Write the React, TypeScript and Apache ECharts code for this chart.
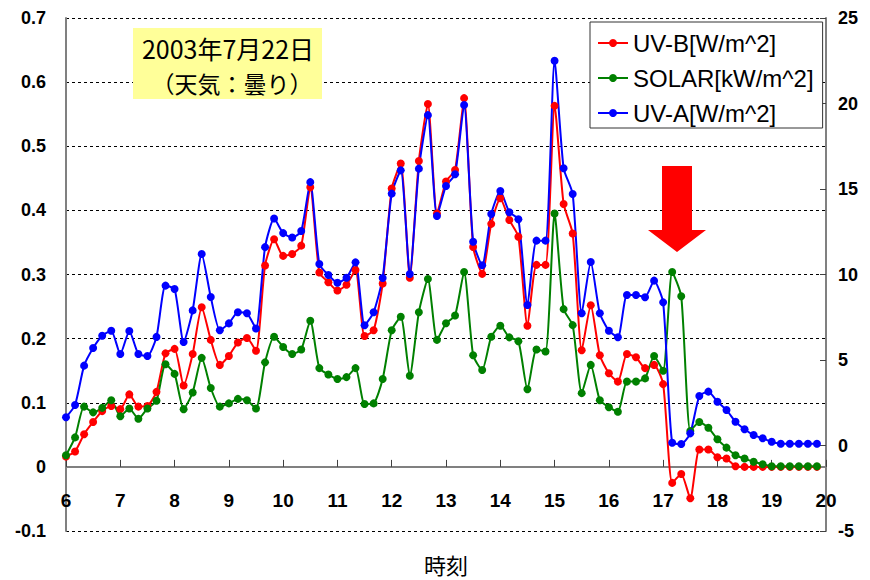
import React, { useEffect, useRef } from "react";
import * as echarts from "echarts";

// 10-minute time stamps from 6:00 to 20:00
const HOURS = [6, 7, 8, 9, 10, 11, 12, 13, 14, 15, 16, 17, 18, 19, 20];
const MINUTES = ["00", "10", "20", "30", "40", "50"];
const TIMES: string[] = [];
HOURS.forEach((h) => {
  MINUTES.forEach((m) => {
    if (h < 20 || m === "00") TIMES.push(`${h}:${m}`);
  });
});

const UVB = [
  0.016, 0.024, 0.051, 0.07, 0.087, 0.095, 0.09, 0.113, 0.094, 0.095, 0.117, 0.177,
  0.184, 0.127, 0.176, 0.249, 0.198, 0.159, 0.173, 0.194, 0.201, 0.181, 0.314, 0.355,
  0.329, 0.332, 0.345, 0.436, 0.303, 0.288, 0.275, 0.284, 0.307, 0.204, 0.213, 0.286,
  0.434, 0.473, 0.295, 0.477, 0.566, 0.395, 0.445, 0.463, 0.575, 0.343, 0.301, 0.379,
  0.419, 0.385, 0.359, 0.22, 0.315, 0.315, 0.563, 0.41, 0.364, 0.182, 0.252, 0.174,
  0.146, 0.133, 0.176, 0.171, 0.154, 0.159, 0.129, -0.025, -0.011, -0.049, 0.027, 0.027,
  0.015, 0.013, 0.001, 0.0, 0.0, 0.0, 0.0, 0.0, 0.0, 0.0, 0.0, 0.0,
];

const SOLAR = [
  0.018, 0.046, 0.094, 0.085, 0.092, 0.104, 0.079, 0.091, 0.075, 0.091, 0.103, 0.16,
  0.145, 0.09, 0.116, 0.17, 0.123, 0.094, 0.099, 0.106, 0.104, 0.091, 0.163, 0.203,
  0.187, 0.176, 0.183, 0.228, 0.154, 0.144, 0.137, 0.14, 0.154, 0.098, 0.099, 0.137,
  0.213, 0.234, 0.142, 0.241, 0.293, 0.198, 0.224, 0.236, 0.304, 0.174, 0.151, 0.203,
  0.22, 0.202, 0.196, 0.121, 0.183, 0.18, 0.395, 0.246, 0.221, 0.115, 0.159, 0.104,
  0.093, 0.086, 0.133, 0.133, 0.138, 0.173, 0.15, 0.304, 0.266, 0.056, 0.07, 0.061,
  0.043, 0.03, 0.018, 0.013, 0.008, 0.004, 0.001, 0.001, 0.001, 0.001, 0.001, 0.001,
];

const UVA = [
  1.65, 2.37, 4.67, 5.7, 6.42, 6.71, 5.35, 6.7, 5.35, 5.23, 6.35, 9.35,
  9.15, 6.05, 7.9, 11.2, 8.68, 6.74, 7.14, 7.79, 7.73, 6.84, 11.6, 13.27,
  12.42, 12.16, 12.54, 15.4, 10.61, 9.97, 9.52, 9.81, 10.71, 7.03, 7.79, 9.8,
  14.73, 16.09, 10.03, 16.19, 19.32, 13.42, 15.18, 15.86, 19.91, 11.92, 10.54, 13.54,
  14.88, 13.64, 13.23, 8.22, 11.98, 11.98, 22.5, 16.21, 14.71, 7.73, 10.73, 7.73,
  6.71, 6.33, 8.8, 8.8, 8.67, 9.64, 8.37, 0.16, 0.09, 0.71, 2.89, 3.15,
  2.56, 2.08, 1.39, 0.95, 0.61, 0.42, 0.22, 0.1, 0.1, 0.1, 0.1, 0.1,
];

const SERIES_NAMES = ["UV-B[W/m^2]", "SOLAR[kW/m^2]", "UV-A[W/m^2]"];
const TITLE_LINES = ["2003年7月22日", "（天気：曇り）"];
const X_NAME = "時刻";

const NUM_FONT = "'Liberation Sans', Arial, sans-serif";
const JP_FONT = "'Noto Sans CJK JP', 'Liberation Sans', sans-serif";

export default function App() {
  const ref = useRef<HTMLDivElement>(null);

  useEffect(() => {
    document.body.style.margin = "0";
    if (!ref.current) return;
    const chart = echarts.init(ref.current, undefined, { renderer: "svg" });

    const lineSeries = (name: string, data: number[], color: string, yAxisIndex: number) => ({
      name,
      type: "line",
      data,
      yAxisIndex,
      smooth: 0.2,
      symbol: "circle",
      symbolSize: 8,
      showSymbol: true,
      showAllSymbol: true,
      lineStyle: { color, width: 2 },
      itemStyle: { color },
      emphasis: { disabled: true },
    });

    chart.setOption({
      animation: false,
      backgroundColor: "#ffffff",
      grid: {
        left: 66,
        right: 44,
        top: 18,
        bottom: 49,
        containLabel: false,
        outerBoundsMode: "none",
      },
      legend: {
        orient: "vertical",
        left: 590,
        top: 22,
        padding: [9, 9, 3, 7],
        itemGap: 11,
        itemWidth: 30,
        itemHeight: 10,
        borderColor: "#333333",
        borderWidth: 1,
        backgroundColor: "#ffffff",
        textStyle: { fontSize: 24, lineHeight: 24, color: "#000", fontFamily: NUM_FONT },
        data: SERIES_NAMES,
      },
      xAxis: {
        type: "category",
        data: TIMES,
        boundaryGap: false,
        axisLine: { onZero: true, lineStyle: { color: "#808080", width: 2 } },
        axisTick: { show: true, inside: true, interval: 5, length: 7, lineStyle: { color: "#404040", width: 1 } },
        axisLabel: {
          interval: 5,
          margin: -40,
          fontSize: 19,
          fontWeight: "bold",
          color: "#000",
          fontFamily: NUM_FONT,
          formatter: (v: string) => v.split(":")[0],
        },
        splitLine: { show: false },
      },
      yAxis: [
        {
          type: "value",
          min: -0.1,
          max: 0.7,
          interval: 0.1,
          position: "left",
          axisLine: { show: true, lineStyle: { color: "#808080", width: 2 } },
          axisTick: { show: false },
          axisLabel: {
            margin: 20,
            fontSize: 18,
            fontWeight: "bold",
            color: "#000",
            fontFamily: NUM_FONT,
            formatter: (v: number) => String(Number(v.toFixed(1))),
          },
          splitLine: { show: true, lineStyle: { color: "#000", width: 1, type: [3, 3] } },
        },
        {
          type: "value",
          min: -5,
          max: 25,
          interval: 5,
          position: "right",
          axisLine: { show: true, lineStyle: { color: "#808080", width: 2 } },
          axisTick: { show: true, inside: true, length: 6, lineStyle: { color: "#404040", width: 1 } },
          axisLabel: {
            margin: 12,
            fontSize: 18,
            fontWeight: "bold",
            color: "#000",
            fontFamily: NUM_FONT,
          },
          splitLine: { show: false },
        },
      ],
      series: [
        lineSeries(SERIES_NAMES[0], UVB, "#ff0000", 0),
        lineSeries(SERIES_NAMES[1], SOLAR, "#008000", 0),
        lineSeries(SERIES_NAMES[2], UVA, "#0000ff", 1),
      ],
      graphic: [
        {
          type: "rect",
          shape: { x: 133, y: 28, width: 189, height: 71 },
          style: { fill: "#ffff99" },
          z: 10,
        },
        {
          type: "text",
          x: 228,
          y: 48,
          style: {
            text: TITLE_LINES[0],
            fontSize: 25,
            fontFamily: JP_FONT,
            fill: "#000",
            align: "center",
            verticalAlign: "middle",
          },
          z: 11,
        },
        {
          type: "text",
          x: 232,
          y: 83,
          style: {
            text: TITLE_LINES[1],
            fontSize: 23,
            fontFamily: JP_FONT,
            fill: "#000",
            align: "center",
            verticalAlign: "middle",
          },
          z: 11,
        },
        {
          type: "text",
          x: 446,
          y: 564,
          style: {
            text: X_NAME,
            fontSize: 22,
            lineHeight: 24,
            fontFamily: JP_FONT,
            fill: "#000",
            align: "center",
            verticalAlign: "middle",
          },
          z: 11,
        },
        {
          type: "polygon",
          shape: {
            points: [
              [662, 166],
              [692, 166],
              [692, 230],
              [706, 230],
              [677, 252],
              [648, 230],
              [662, 230],
            ],
          },
          style: { fill: "#ff0000" },
          z: 10,
        },
      ],
    });

    return () => chart.dispose();
  }, []);

  return <div ref={ref} style={{ width: 870, height: 580 }} />;
}
